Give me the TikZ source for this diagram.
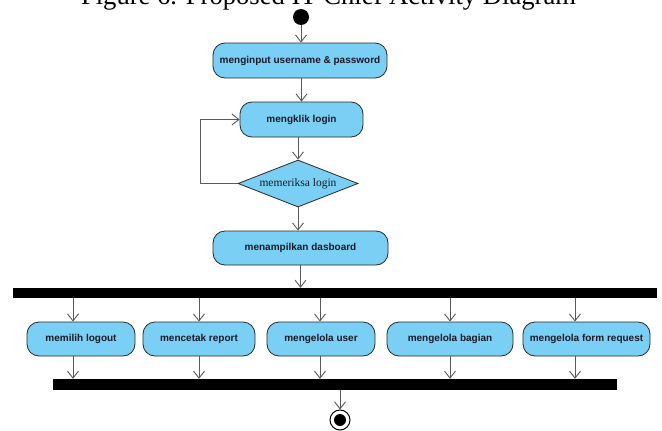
\documentclass[tikz,border=0pt]{standalone}
\usepackage{fontspec}
\setmainfont{Liberation Serif}
\newfontfamily\boxfont{Liberation Sans}
\usetikzlibrary{arrows.meta,shapes.geometric}
\definecolor{actfill}{HTML}{79CFF4}
\definecolor{actline}{HTML}{2A2A2A}
\definecolor{flowline}{HTML}{5A5A5A}
\definecolor{labeltext}{HTML}{1A1A28}
\tikzset{
  action/.style={draw=actline, fill=actfill, line width=0.8pt, rounded corners=12pt,
    inner sep=0pt, minimum height=35pt, text=labeltext,
    font=\boxfont\bfseries\fontsize{10}{12}\selectfont},
  decision/.style={diamond, draw=actline, fill=actfill, line width=0.8pt,
    shape aspect=2.55, inner sep=0pt, minimum width=120pt, minimum height=47pt,
    text=labeltext, font=\fontsize{11.5}{13}\selectfont},
  syncbar/.style={fill=black, draw=none, inner sep=0pt},
  flow/.style={draw=flowline, line width=0.9pt, -{Straight Barb[length=7pt,width=11pt,line width=0.9pt]}},
  loopline/.style={draw=flowline, line width=0.9pt}
}
\begin{document}
\begin{tikzpicture}[x=1pt, y=-1pt]
  \useasboundingbox (0,0) rectangle (662,431);
  \fill[white] (0,0) rectangle (662,431);

  % caption, its upper part cut off by the page edge
  \node[anchor=base, inner sep=0pt, font=\fontsize{26.6}{30}\selectfont] (caption) at (328.5,5)
    {Figure 6. Proposed IT Chief Activity Diagram};

  % start and end
  \node[circle, fill=black, minimum size=16pt, inner sep=0pt] (init) at (301,17) {};
  \node[circle, draw=black, line width=1pt, fill=white, minimum size=20pt, inner sep=0pt] (final) at (340,420) {};
  \fill[black] (final.center) circle (6pt);

  % login sequence
  \node[action, minimum width=174pt] (input) at (300,60.5) {menginput username \& password};
  \node[action, minimum width=123pt] (klik) at (301.5,119.5) {mengklik login};
  \node[decision] (cek) at (298,183.5) {memeriksa login};
  \node[action, minimum width=175pt, minimum height=34pt] (dash) at (300.5,248) {menampilkan dasboard};

  % fork and join bars
  \node[syncbar, minimum width=644pt, minimum height=10pt] (fork) at (335,293) {};
  \node[syncbar, minimum width=564pt, minimum height=11pt] (join) at (335,384.5) {};

  % parallel actions
  \node[action, minimum width=108pt, minimum height=34pt] (logout) at (81,339) {memilih logout};
  \node[action, minimum width=112pt, minimum height=34pt] (report) at (199,339) {mencetak report};
  \node[action, minimum width=108pt, minimum height=34pt] (user) at (321,339) {mengelola user};
  \node[action, minimum width=126pt, minimum height=34pt] (bagian) at (450,339) {mengelola bagian};
  \node[action, minimum width=127pt, minimum height=34pt] (form) at (586.5,339) {mengelola form request};

  % connectors
  \draw[flow] (init.south) -- (init.south |- input.north);
  \draw[flow] (input.south -| klik) -- (klik.north);
  \draw[flow] (klik.south -| cek) -- (cek.north);
  \coordinate (loopturn) at (200,183.5);
  \draw[loopline] (cek.west) -- (loopturn);
  \draw[flow] (loopturn) |- (klik.west);
  \draw[flow] (cek.south) -- (cek.south |- dash.north);
  \draw[flow] (dash.south) -- (dash.south |- fork.north);

  \foreach \act/\x in {logout/73, report/199, user/320, bagian/450, form/575} {
    \draw[flow] (fork.south -| \x,0) -- (\act.north -| \x,0);
    \draw[flow] (\act.south -| \x,0) -- (join.north -| \x,0);
  }
  \draw[flow] (join.south -| final) -- (final.north);
\end{tikzpicture}
\end{document}
